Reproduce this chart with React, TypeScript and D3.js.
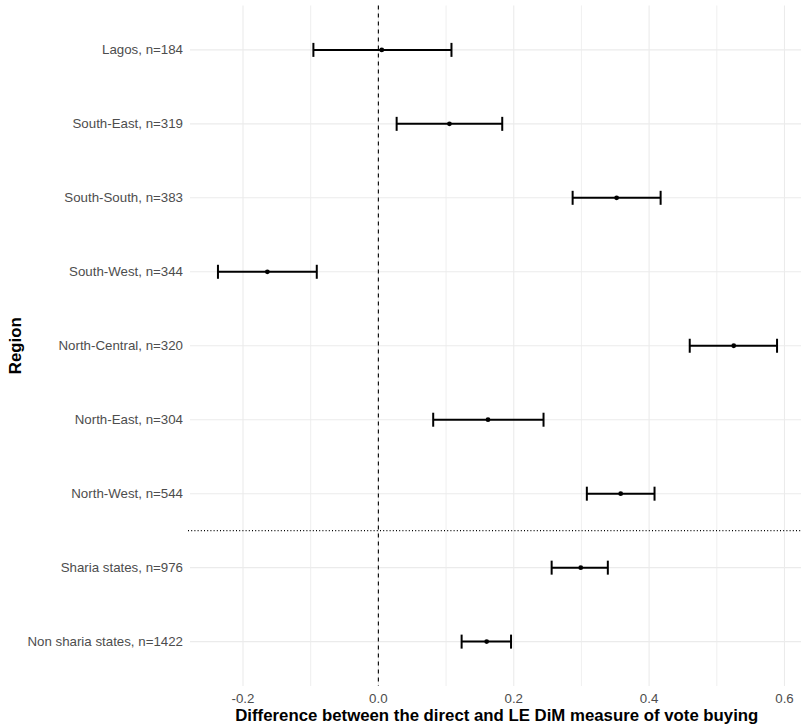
import React from "react";
import * as d3 from "d3";

// regions from top to bottom
const regions = [
  "Lagos, n=184",
  "South-East, n=319",
  "South-South, n=383",
  "South-West, n=344",
  "North-Central, n=320",
  "North-East, n=304",
  "North-West, n=544",
  "Sharia states, n=976",
  "Non sharia states, n=1422",
];
const estimates = [0.005, 0.105, 0.352, -0.164, 0.525, 0.162, 0.358, 0.299, 0.16];
const lowers = [-0.096, 0.027, 0.287, -0.237, 0.46, 0.081, 0.308, 0.256, 0.123];
const uppers = [0.108, 0.183, 0.417, -0.091, 0.589, 0.244, 0.408, 0.339, 0.196];
const xTicks = [-0.2, 0, 0.2, 0.4, 0.6];
const xMinor = [-0.1, 0.1, 0.3, 0.5];

const width = 801;
const height = 727;
const panel = { left: 190, right: 805, top: 5.5, bottom: 686 };
const font = "'Liberation Sans', Arial, Helvetica, sans-serif";

export default function App() {
  // ggplot style 5% expansion around the data
  const lo = d3.min(lowers) as number;
  const hi = d3.max(uppers) as number;
  const pad = (hi - lo) * 0.05;
  const x = d3.scaleLinear().domain([lo - pad, hi + pad]).range([panel.left, panel.right]);

  // discrete axis: 0.6 unit expansion on each side
  const step = (panel.bottom - panel.top) / (regions.length - 1 + 1.2);
  const y = d3
    .scalePoint<string>()
    .domain(regions)
    .range([panel.top + 0.6 * step, panel.bottom - 0.6 * step]);

  // separator between regions and state groups
  const sepY = ((y(regions[6]) as number) + (y(regions[7]) as number)) / 2;
  const capH = 7;

  return (
    <svg width={width} height={height} style={{ display: "block", position: "absolute", left: 0, top: 0 }}>
      <rect width={width} height={height} fill="white" />
      <g>
        {xMinor.map((t) => (
          <line key={"m" + t} x1={x(t)} x2={x(t)} y1={panel.top} y2={panel.bottom} stroke="#EBEBEB" strokeWidth={0.8} />
        ))}
        {xTicks.map((t) => (
          <line key={"M" + t} x1={x(t)} x2={x(t)} y1={panel.top} y2={panel.bottom} stroke="#EBEBEB" strokeWidth={1.1} />
        ))}
        {regions.map((r) => (
          <line key={"h" + r} x1={panel.left} x2={panel.right} y1={y(r)} y2={y(r)} stroke="#EBEBEB" strokeWidth={1.1} />
        ))}
      </g>
      <line x1={x(0)} x2={x(0)} y1={panel.top} y2={panel.bottom} stroke="black" strokeWidth={1.1} strokeDasharray="4,4" />
      <line x1={panel.left - 2} x2={panel.right} y1={sepY} y2={sepY} stroke="black" strokeWidth={1.1} strokeDasharray="1,2.2" />
      <g>
        {regions.map((r, i) => {
          const cy = y(r) as number;
          return (
            <g key={r} stroke="black" strokeWidth={2}>
              <line x1={x(lowers[i])} x2={x(uppers[i])} y1={cy} y2={cy} />
              <line x1={x(lowers[i])} x2={x(lowers[i])} y1={cy - capH} y2={cy + capH} />
              <line x1={x(uppers[i])} x2={x(uppers[i])} y1={cy - capH} y2={cy + capH} />
              <circle cx={x(estimates[i])} cy={cy} r={2.4} fill="black" stroke="none" />
            </g>
          );
        })}
      </g>
      <g fontFamily={font} fontSize={13.3} fill="#4D4D4D">
        {regions.map((r) => (
          <text key={"t" + r} x={panel.left - 7} y={(y(r) as number) + 4.6} textAnchor="end">
            {r}
          </text>
        ))}
        {xTicks.map((t) => (
          <text key={"x" + t} x={x(t)} y={703} textAnchor="middle">
            {d3.format(".1f")(t).replace("−", "-")}
          </text>
        ))}
      </g>
      <text x={x(0.175)} y={721} textAnchor="middle" fontFamily={font} fontSize={16.8} fontWeight="bold" fill="black">
        Difference between the direct and LE DiM measure of vote buying
      </text>
      <text
        transform={`translate(21, ${(panel.top + panel.bottom) / 2}) rotate(-90)`}
        textAnchor="middle"
        fontFamily={font}
        fontSize={16.8}
        fontWeight="bold"
        fill="black"
      >
        Region
      </text>
    </svg>
  );
}
